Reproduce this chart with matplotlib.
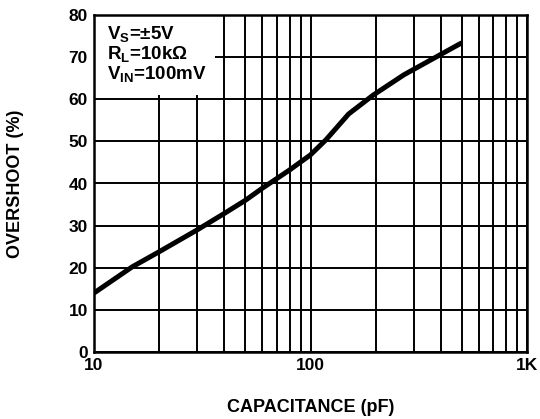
# overshoot vs capacitive load
import numpy as np
import matplotlib.pyplot as plt
from matplotlib.patches import Rectangle
from matplotlib.ticker import FixedLocator, NullFormatter

plt.rcParams['font.family'] = ['Liberation Sans', 'DejaVu Sans']
plt.rcParams['font.weight'] = 'bold'
plt.rcParams['mathtext.fontset'] = 'custom'
plt.rcParams['mathtext.bf'] = 'Liberation Sans:bold'
plt.rcParams['mathtext.rm'] = 'Liberation Sans:bold'

# data
cap_pf = [10, 15, 20, 30, 40, 50, 60, 70, 80, 100, 118, 150, 195, 270, 395, 500]
overshoot = [14.0, 20.2, 23.8, 29.0, 32.9, 36.0, 38.9, 41.2, 43.2, 46.8, 50.4, 56.5, 61.0, 65.8, 70.5, 73.4]

x_ticks = [10, 100, 1000]
x_tick_labels = ['10', '100', '1K']
y_ticks = [0, 10, 20, 30, 40, 50, 60, 70, 80]

fig = plt.figure(figsize=(5.4, 4.19), dpi=100)
ax = fig.add_axes([94 / 540, 1 - 352 / 419, 433 / 540, 337 / 419])

ax.plot(cap_pf, overshoot, color='black', linewidth=3.6, solid_capstyle='butt',
        solid_joinstyle='round', zorder=3)

ax.set_xscale('log')
ax.set_xlim(10, 1000)
ax.set_ylim(0, 80)
ax.xaxis.set_major_locator(FixedLocator(x_ticks))
ax.xaxis.set_minor_locator(FixedLocator([v * d for d in (10, 100) for v in range(2, 10)]))
ax.xaxis.set_minor_formatter(NullFormatter())
ax.set_xticklabels(x_tick_labels)
ax.set_yticks(y_ticks)
ax.grid(True, which='both', color='black', linewidth=1.4)
ax.tick_params(which='both', length=0, labelsize=12.5)
ax.tick_params(axis='x', pad=4)
ax.tick_params(axis='y', pad=4.5)
for s in ax.spines.values():
    s.set_linewidth(1.8)
    s.set_zorder(5)

ax.set_xlabel('CAPACITANCE (pF)', fontsize=13, fontweight='bold', labelpad=19)
ax.set_ylabel('OVERSHOOT (%)', fontsize=13, fontweight='bold', labelpad=32)

# white box behind the conditions text
ax.add_patch(Rectangle((0, 0.763), 0.28, 0.237, transform=ax.transAxes,
                       facecolor='white', edgecolor='none', zorder=2.5))
ax.text(0.03, 0.972,
        'V$_\\mathbf{S}$=±5V\nR$_\\mathbf{L}$=10k$\\Omega$\nV$_\\mathbf{IN}$=100mV',
        transform=ax.transAxes, ha='left', va='top', fontsize=13.5,
        fontweight='bold', linespacing=1.0, zorder=4)

fig.savefig('out.png', dpi=100)
